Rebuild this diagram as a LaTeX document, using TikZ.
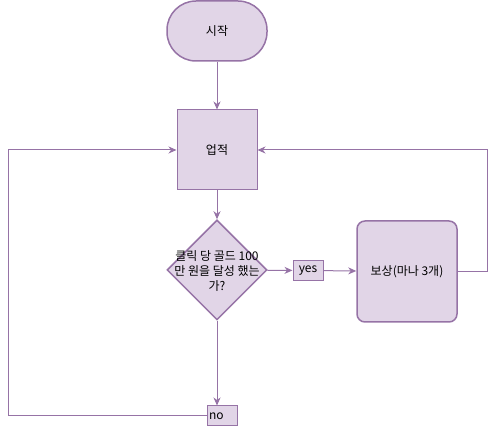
\documentclass[tikz,border=0pt]{standalone}
\usepackage{fontspec}
\setmainfont{Noto Sans CJK KR}
\usetikzlibrary{shapes.geometric,arrows.meta}
\definecolor{lilac}{HTML}{E1D5E7}
\definecolor{plum}{HTML}{9673A6}

\begin{document}
\begin{tikzpicture}[x=1pt, y=-1pt, node distance=120pt, font=\fontsize{12}{15}\selectfont, >={Stealth[length=8pt,width=7pt,inset=2.5pt]}]
    \tikzstyle{terminal} = [rectangle, rounded corners=29pt, minimum width=100pt, minimum height=60pt, draw=plum, fill=lilac, line width=1.5pt]
    \tikzstyle{process} = [rectangle, minimum width=80pt, minimum height=80pt, draw=plum, fill=lilac, line width=1pt]
    \tikzstyle{decision} = [diamond, aspect=1, inner sep=0pt, minimum width=100pt, minimum height=100pt, draw=plum, fill=lilac, line width=1.5pt]
    \tikzstyle{reward} = [rectangle, rounded corners=8pt, minimum width=100pt, minimum height=101pt, draw=plum, fill=lilac, line width=1.5pt]
    \tikzstyle{tag} = [rectangle, inner sep=1pt, minimum width=30pt, minimum height=20pt, draw=plum, fill=lilac, line width=1pt]
    \tikzstyle{flow} = [draw=plum, line width=1pt]
    \useasboundingbox (0,0) rectangle (496,427);

    % Main column
    \node [terminal] at (217,31) (start) {시작};
    \node [process, below of=start, node distance=119pt] (achieve) {업적};
    \node [decision, below of=achieve, node distance=120pt, label={[align=center, yshift=-1pt]center:클릭 당 골드 100\\만 원을 달성 했는\\가?}] (check) {};

    % Branches
    \node [reward, right of=check, node distance=190pt, yshift=-1.5pt] (mana) {보상(마나 3개)};
    \node [tag, right of=check, node distance=91pt, yshift=-0.5pt] (yes) {yes};
    \node [tag, below of=check, node distance=146pt, xshift=5pt, align=left, text width=26pt] (no) {no};

    % Connections
    \draw [flow, ->] (start) -- (achieve);
    \draw [flow, ->] (achieve) -- (check);
    \draw [flow, ->] (check) -- (yes);
    \draw [flow, ->] (yes) -- (mana);
    \draw [flow, ->] (check) -- (check |- no.north);
    \draw [flow, ->] (mana.east) -- ++(30,0) |- (achieve.east);
    \draw [flow, ->] (no.west) -| (8,150) -- (achieve.west);
\end{tikzpicture}
\end{document}
